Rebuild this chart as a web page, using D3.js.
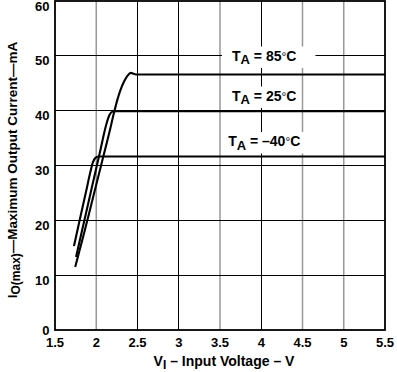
<!DOCTYPE html>
<html>
<head>
<meta charset="utf-8">
<script src="https://cdn.jsdelivr.net/npm/d3@7"></script>
<style>
  html, body { margin: 0; padding: 0; background: #fff; }
  svg { display: block; }
  text { font-family: "Liberation Sans", Arial, Helvetica, sans-serif; font-weight: bold; fill: #000; }
</style>
</head>
<body>
<div id="chart"></div>
<script>
// ---- data ----
const xTicks = [1.5, 2, 2.5, 3, 3.5, 4, 4.5, 5, 5.5];
const yTicks = [0, 10, 20, 30, 40, 50, 60];
const xGrayTicks = [2, 3.5, 4.5, 5];

const vIn85 = [1.745, 1.86, 1.96, 2.06, 2.16, 2.215, 2.26, 2.30, 2.34, 2.38, 2.42, 2.46, 2.50, 5.5];
const iOut85 = [11.5, 18.1, 24.1, 30.1, 36.1, 39.6, 42.2, 44.0, 45.4, 46.4, 46.9, 46.7, 46.6, 46.6];

const vIn25 = [1.755, 1.85, 1.95, 2.05, 2.12, 2.16, 2.20, 2.24, 5.5];
const iOut25 = [13.3, 19.6, 26.2, 32.8, 37.4, 39.2, 39.85, 39.9, 39.9];

const vInM40 = [1.73, 1.80, 1.88, 1.93, 1.96, 1.99, 2.03, 5.5];
const iOutM40 = [15.3, 20.1, 25.5, 28.9, 30.6, 31.4, 31.65, 31.65];

const seriesLabels = ["85", "25", "–40"];
const labelAnchorV = [4.0, 4.0, 4.0];

// ---- layout ----
const W = 397, H = 372;
const x = d3.scaleLinear().domain([1.5, 5.5]).range([55, 385]);
const y = d3.scaleLinear().domain([0, 60]).range([330, 1]);

const svg = d3.select("#chart").append("svg").attr("width", W).attr("height", H);

// gridlines
const grid = svg.append("g");
grid.selectAll("line.v").data(xTicks.slice(1, -1)).enter().append("line")
  .attr("x1", d => x(d)).attr("x2", d => x(d))
  .attr("y1", y(60)).attr("y2", y(0))
  .attr("stroke", d => xGrayTicks.includes(d) ? "#999" : "#000")
  .attr("stroke-width", d => xGrayTicks.includes(d) ? 1.5 : 1)
  .attr("shape-rendering", d => xGrayTicks.includes(d) ? "auto" : "crispEdges");
grid.selectAll("line.h").data(yTicks.slice(1, -1)).enter().append("line")
  .attr("x1", x(1.5)).attr("x2", x(5.5))
  .attr("y1", d => y(d)).attr("y2", d => y(d))
  .attr("stroke", "#000").attr("stroke-width", 1)
  .attr("shape-rendering", "crispEdges");

// curve labels with white boxes
const labelPads = [[10, 19], [3, 3], [5, 5]];
const labelBase = [60.5, 100.5, 146];
const labG = svg.append("g");
seriesLabels.forEach((lab, i) => {
  const g = labG.append("g");
  const rect = g.append("rect").attr("fill", "#fff");
  const t = g.append("text")
    .attr("x", x(labelAnchorV[i]) + 3)
    .attr("y", labelBase[i])
    .attr("text-anchor", "middle")
    .style("font-size", "14px");
  t.append("tspan").text("T");
  t.append("tspan").attr("dy", 3.5).style("font-size", "13px").text("A");
  t.append("tspan").attr("dy", -3.5).text(" = " + lab);
  t.append("tspan").style("font-weight", "normal").style("font-size", "12px").text("°");
  t.append("tspan").text("C");
  const bb = t.node().getBBox();
  rect.attr("x", bb.x - labelPads[i][0]).attr("y", bb.y - 1)
    .attr("width", bb.width + labelPads[i][0] + labelPads[i][1])
    .attr("height", bb.height + 2);
});

// curves
const line = d3.line().x(d => x(d[0])).y(d => y(d[1])).curve(d3.curveMonotoneX);
const curves = [
  d3.zip(vIn85, iOut85),
  d3.zip(vIn25, iOut25),
  d3.zip(vInM40, iOutM40)
];
svg.append("g").selectAll("path").data(curves).enter().append("path")
  .attr("d", line)
  .attr("fill", "none")
  .attr("stroke", "#000")
  .attr("stroke-width", 2.1)
  .attr("stroke-linejoin", "round");

// plot border
svg.append("rect")
  .attr("x", x(1.5)).attr("y", y(60))
  .attr("width", x(5.5) - x(1.5)).attr("height", y(0) - y(60))
  .attr("fill", "none").attr("stroke", "#000").attr("stroke-width", 1.8);

// x tick labels
svg.append("g").selectAll("text").data(xTicks).enter().append("text")
  .attr("x", d => x(d)).attr("y", 347)
  .attr("text-anchor", "middle")
  .style("font-size", "13px")
  .text(d => d3.format("")(d));

// y tick labels
svg.append("g").selectAll("text").data(yTicks).enter().append("text")
  .attr("x", 49.5)
  .attr("y", d => d === 0 ? y(d) + 4.5 : y(d) + 9.5)
  .attr("text-anchor", "end")
  .style("font-size", "13px")
  .text(d => d);

// x title
const xt = svg.append("text").attr("x", 224).attr("y", 366)
  .attr("text-anchor", "middle").style("font-size", "14px");
xt.append("tspan").text("V");
xt.append("tspan").attr("dy", 3).style("font-size", "12px").text("I");
xt.append("tspan").attr("dy", -3).text(" – Input Voltage – V");

// y title
const yt = svg.append("text")
  .attr("transform", "translate(17,170) rotate(-90)")
  .attr("text-anchor", "middle").style("font-size", "13.5px");
yt.append("tspan").text("I");
yt.append("tspan").attr("dy", 3).style("font-size", "12px").text("O(max)");
yt.append("tspan").attr("dy", -3).text("—Maximum Output Current—mA");
</script>
</body>
</html>
